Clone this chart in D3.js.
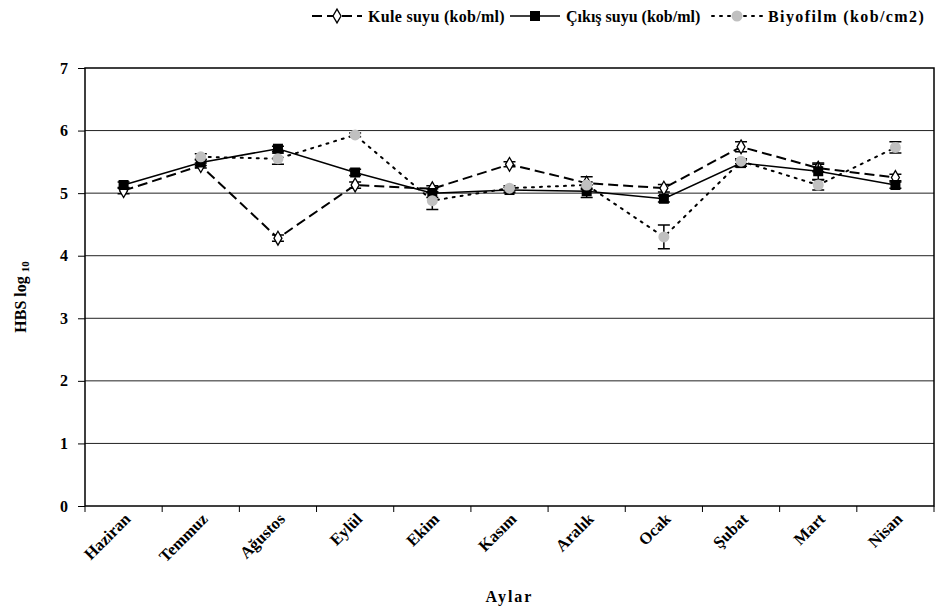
<!DOCTYPE html>
<html>
<head>
<meta charset="utf-8">
<script src="https://cdn.jsdelivr.net/npm/d3@7"></script>
<style>
  body { margin: 0; background: #fff; }
  svg text { font-weight: bold; fill: #000; }
</style>
</head>
<body>
<svg id="chart" width="951" height="613"></svg>
<script>
// months
var months = ["Haziran", "Temmuz", "Ağustos", "Eylül", "Ekim", "Kasım", "Aralık", "Ocak", "Şubat", "Mart", "Nisan"];

// series (log10 values) and error bars
var kule = [5.04, 5.44, 4.28, 5.13, 5.07, 5.46, 5.16, 5.08, 5.74, 5.40, 5.25];
var kule_err = [0.05, 0.04, 0.05, 0.05, 0.05, 0.04, 0.10, 0.06, 0.08, 0.06, 0.05];
var cikis = [5.13, 5.49, 5.71, 5.33, 5.00, 5.05, 5.03, 4.91, 5.48, 5.35, 5.13];
var cikis_err = [0.05, 0.05, 0.04, 0.05, 0.07, 0.04, 0.10, 0.05, 0.05, 0.13, 0.05];
var biyofilm = [null, 5.58, 5.55, 5.93, 4.88, 5.08, 5.13, 4.30, 5.51, 5.13, 5.73];
var biyofilm_err = [0, 0.05, 0.09, 0.03, 0.14, 0.04, 0.05, 0.19, 0.04, 0.08, 0.09];

var yTicks = [0, 1, 2, 3, 4, 5, 6, 7];
var legendLabels = ["Kule suyu (kob/ml)", "Çıkış suyu (kob/ml)", "Biyofilm (kob/cm2)"];

var pLeft = 85, pRight = 934, pTop = 68, pBottom = 506;
var serif = "'Liberation Serif', serif";
var svg = d3.select("#chart");

var x = d3.scaleBand().domain(months).range([pLeft, pRight]);
var y = d3.scaleLinear().domain([0, 7]).range([pBottom, pTop]);

// grid
svg.append("g").selectAll("line").data(yTicks.slice(1, 7)).enter().append("line")
	.attr("x1", pLeft).attr("x2", pRight)
	.attr("y1", function(d){ return y(d); }).attr("y2", function(d){ return y(d); })
	.style("stroke", "#222").style("stroke-width", 1);

// frame
svg.append("rect").attr("x", pLeft).attr("y", pTop).attr("width", pRight - pLeft).attr("height", pBottom - pTop)
	.style("fill", "none").style("stroke", "#000").style("stroke-width", 1.5);

// y axis
var yAxis = d3.axisLeft(y).tickValues(yTicks).tickFormat(d3.format("d")).tickSize(7).tickPadding(10);
var gy = svg.append("g").attr("transform", "translate(" + pLeft + ",0)").call(yAxis)
	.attr("font-family", serif);
gy.select(".domain").remove();
gy.selectAll("text").style("font-size", "16px").style("font-family", serif);

// x axis
var xAxis = d3.axisBottom(x).tickSize(0).tickFormat("");
svg.append("g").attr("transform", "translate(0," + pBottom + ")").call(xAxis).select(".domain").remove();
svg.append("g").selectAll("line").data(d3.range(months.length + 1)).enter().append("line")
	.attr("x1", function(i){ return pLeft + i * x.step(); })
	.attr("x2", function(i){ return pLeft + i * x.step(); })
	.attr("y1", pBottom).attr("y2", pBottom + 6)
	.style("stroke", "#000");

svg.append("g").selectAll("text").data(months).enter().append("text")
	.attr("transform", function(d){ return "translate(" + (x(d) + x.bandwidth() / 2 + 8) + "," + (pBottom + 14) + ") rotate(-45)"; })
	.attr("text-anchor", "end")
	.style("font-family", serif)
	.style("font-size", "16.5px")
	.text(function(d){ return d; });

// axis titles
svg.append("text").attr("x", (pLeft + pRight) / 2).attr("y", 602).attr("text-anchor", "middle")
	.style("font-family", serif)
	.style("font-size", "16px").style("letter-spacing", "2px").text("Aylar");

var yt = svg.append("text").attr("transform", "translate(26,297) rotate(-90)")
	.attr("text-anchor", "middle").style("font-family", serif).style("font-size", "16px");
yt.append("tspan").text("HBS log ");
yt.append("tspan").attr("dy", 3).style("font-size", "11px").text("10");

// series
var cx = function(i){ return x(months[i]) + x.bandwidth() / 2; };
var series = [
	{vals: kule, err: kule_err, dash: "10,5", width: 2, marker: "diamond"},
	{vals: cikis, err: cikis_err, dash: null, width: 1.5, marker: "square"},
	{vals: biyofilm, err: biyofilm_err, dash: "2,6", width: 2, marker: "circle"}
];

var line = d3.line()
	.defined(function(d){ return d != null; })
	.x(function(d, i){ return cx(i); })
	.y(function(d){ return y(d); });

function drawMarker(g, type, px, py){
	if (type === "diamond") {
		g.append("path").attr("d", d3.symbol().type(d3.symbolDiamond).size(55)())
			.attr("transform", "translate(" + px + "," + py + ")")
			.style("fill", "#fff").style("stroke", "#000").style("stroke-width", 1.3);
	} else if (type === "square") {
		g.append("rect").attr("x", px - 5).attr("y", py - 5).attr("width", 10).attr("height", 10).style("fill", "#000");
	} else {
		g.append("circle").attr("cx", px).attr("cy", py).attr("r", 5.5).style("fill", "#c0c0c0");
	}
}

series.forEach(function(s){
	var g = svg.append("g");
	g.append("path").datum(s.vals).attr("d", line)
		.style("fill", "none").style("stroke", "#000").style("stroke-width", s.width)
		.style("stroke-dasharray", s.dash)
		.style("stroke-linecap", s.marker === "circle" ? "round" : "butt");
	s.vals.forEach(function(v, i){
		if (v == null) return;
		var e = s.err[i];
		var px = cx(i);
		g.append("path")
			.attr("d", "M" + (px - 6) + "," + y(v + e) + "H" + (px + 6) + "M" + px + "," + y(v + e) + "V" + y(v - e) + "M" + (px - 6) + "," + y(v - e) + "H" + (px + 6))
			.style("stroke", "#000").style("stroke-width", 1.5).style("fill", "none");
		drawMarker(g, s.marker, px, y(v));
	});
});

// legend
var legendX = [312, 510, 712];
var legendSpacing = ["0.3px", "0px", "1.4px"];
var legend = svg.append("g");
series.forEach(function(s, i){
	var lx = legendX[i], ly = 16;
	legend.append("line").attr("x1", lx).attr("x2", lx + 50).attr("y1", ly).attr("y2", ly)
		.style("stroke", "#000").style("stroke-width", s.width).style("stroke-dasharray", s.dash)
		.style("stroke-linecap", s.marker === "circle" ? "round" : "butt");
	drawMarker(legend, s.marker, lx + 25, ly);
	legend.append("text").attr("x", lx + 56).attr("y", ly + 6)
		.style("font-family", serif)
		.style("font-size", "16px").style("letter-spacing", legendSpacing[i]).text(legendLabels[i]);
});
</script>
</body>
</html>
